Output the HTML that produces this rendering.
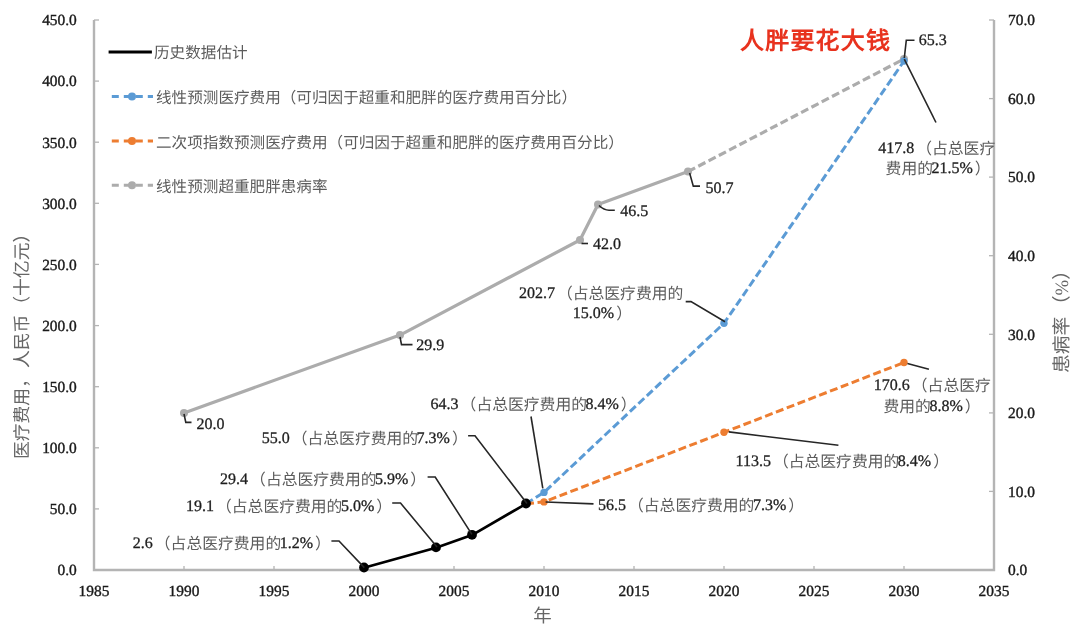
<!DOCTYPE html>
<html lang="zh-CN"><head><meta charset="utf-8">
<style>
html,body{margin:0;padding:0;background:#fff;}
svg{display:block;text-rendering:geometricPrecision;filter:blur(0.4px);}
.n{font-family:"Liberation Serif",serif;font-size:15.4px;fill:#333;}
.ax .d{fill:#1a1a1a;stroke:#1a1a1a;stroke-width:0.4px;}
.t{font-size:17.3px;} .t tspan{fill:#666;} .t{fill:#666;} .t .c{fill:#666;} .rt{font-size:18.8px;} .lt{font-size:17.8px;}
.lb .d{font-size:16px;fill:#1e1e1e;stroke:#1e1e1e;stroke-width:0.3px;} .lb .c{font-size:15.8px;}
.d{fill:#2a2a2a;} .c{fill:#5c5c5c;font-size:15.6px;} .t .c{font-size:17.3px;}
.title .c{fill:#e8321e;font-size:24px;}
.title{font-family:"Liberation Sans",sans-serif;font-size:24px;font-weight:bold;fill:#e8321e;letter-spacing:1.2px;}
</style></head><body>
<svg width="1080" height="632" viewBox="0 0 1080 632">
<path d="M94 20V570H994V20" fill="none" stroke="#b4b4b4" stroke-width="2.4"/>
<line x1="94" y1="570.0" x2="99" y2="570.0" stroke="#b4b4b4" stroke-width="1.3"/>
<text x="76.8" y="575.3" text-anchor="end" class="n ax"><tspan class="d">0.0</tspan></text>
<line x1="94" y1="508.9" x2="99" y2="508.9" stroke="#b4b4b4" stroke-width="1.3"/>
<text x="76.8" y="514.2" text-anchor="end" class="n ax"><tspan class="d">50.0</tspan></text>
<line x1="94" y1="447.8" x2="99" y2="447.8" stroke="#b4b4b4" stroke-width="1.3"/>
<text x="76.8" y="453.1" text-anchor="end" class="n ax"><tspan class="d">100.0</tspan></text>
<line x1="94" y1="386.7" x2="99" y2="386.7" stroke="#b4b4b4" stroke-width="1.3"/>
<text x="76.8" y="392.0" text-anchor="end" class="n ax"><tspan class="d">150.0</tspan></text>
<line x1="94" y1="325.6" x2="99" y2="325.6" stroke="#b4b4b4" stroke-width="1.3"/>
<text x="76.8" y="330.9" text-anchor="end" class="n ax"><tspan class="d">200.0</tspan></text>
<line x1="94" y1="264.4" x2="99" y2="264.4" stroke="#b4b4b4" stroke-width="1.3"/>
<text x="76.8" y="269.7" text-anchor="end" class="n ax"><tspan class="d">250.0</tspan></text>
<line x1="94" y1="203.3" x2="99" y2="203.3" stroke="#b4b4b4" stroke-width="1.3"/>
<text x="76.8" y="208.6" text-anchor="end" class="n ax"><tspan class="d">300.0</tspan></text>
<line x1="94" y1="142.2" x2="99" y2="142.2" stroke="#b4b4b4" stroke-width="1.3"/>
<text x="76.8" y="147.5" text-anchor="end" class="n ax"><tspan class="d">350.0</tspan></text>
<line x1="94" y1="81.1" x2="99" y2="81.1" stroke="#b4b4b4" stroke-width="1.3"/>
<text x="76.8" y="86.4" text-anchor="end" class="n ax"><tspan class="d">400.0</tspan></text>
<line x1="94" y1="20.0" x2="99" y2="20.0" stroke="#b4b4b4" stroke-width="1.3"/>
<text x="76.8" y="25.3" text-anchor="end" class="n ax"><tspan class="d">450.0</tspan></text>
<line x1="989" y1="570.0" x2="994" y2="570.0" stroke="#b4b4b4" stroke-width="1.3"/>
<text x="1008" y="575.2" class="n ax"><tspan class="d">0.0</tspan></text>
<line x1="989" y1="491.4" x2="994" y2="491.4" stroke="#b4b4b4" stroke-width="1.3"/>
<text x="1008" y="496.6" class="n ax"><tspan class="d">10.0</tspan></text>
<line x1="989" y1="412.9" x2="994" y2="412.9" stroke="#b4b4b4" stroke-width="1.3"/>
<text x="1008" y="418.1" class="n ax"><tspan class="d">20.0</tspan></text>
<line x1="989" y1="334.3" x2="994" y2="334.3" stroke="#b4b4b4" stroke-width="1.3"/>
<text x="1008" y="339.5" class="n ax"><tspan class="d">30.0</tspan></text>
<line x1="989" y1="255.7" x2="994" y2="255.7" stroke="#b4b4b4" stroke-width="1.3"/>
<text x="1008" y="260.9" class="n ax"><tspan class="d">40.0</tspan></text>
<line x1="989" y1="177.1" x2="994" y2="177.1" stroke="#b4b4b4" stroke-width="1.3"/>
<text x="1008" y="182.3" class="n ax"><tspan class="d">50.0</tspan></text>
<line x1="989" y1="98.6" x2="994" y2="98.6" stroke="#b4b4b4" stroke-width="1.3"/>
<text x="1008" y="103.8" class="n ax"><tspan class="d">60.0</tspan></text>
<line x1="989" y1="20.0" x2="994" y2="20.0" stroke="#b4b4b4" stroke-width="1.3"/>
<text x="1008" y="25.2" class="n ax"><tspan class="d">70.0</tspan></text>
<line x1="94.0" y1="570" x2="94.0" y2="566" stroke="#b4b4b4" stroke-width="1.3"/>
<text x="94.0" y="595.7" text-anchor="middle" class="n ax"><tspan class="d">1985</tspan></text>
<line x1="184.0" y1="570" x2="184.0" y2="566" stroke="#b4b4b4" stroke-width="1.3"/>
<text x="184.0" y="595.7" text-anchor="middle" class="n ax"><tspan class="d">1990</tspan></text>
<line x1="274.0" y1="570" x2="274.0" y2="566" stroke="#b4b4b4" stroke-width="1.3"/>
<text x="274.0" y="595.7" text-anchor="middle" class="n ax"><tspan class="d">1995</tspan></text>
<line x1="364.0" y1="570" x2="364.0" y2="566" stroke="#b4b4b4" stroke-width="1.3"/>
<text x="364.0" y="595.7" text-anchor="middle" class="n ax"><tspan class="d">2000</tspan></text>
<line x1="454.0" y1="570" x2="454.0" y2="566" stroke="#b4b4b4" stroke-width="1.3"/>
<text x="454.0" y="595.7" text-anchor="middle" class="n ax"><tspan class="d">2005</tspan></text>
<line x1="544.0" y1="570" x2="544.0" y2="566" stroke="#b4b4b4" stroke-width="1.3"/>
<text x="544.0" y="595.7" text-anchor="middle" class="n ax"><tspan class="d">2010</tspan></text>
<line x1="634.0" y1="570" x2="634.0" y2="566" stroke="#b4b4b4" stroke-width="1.3"/>
<text x="634.0" y="595.7" text-anchor="middle" class="n ax"><tspan class="d">2015</tspan></text>
<line x1="724.0" y1="570" x2="724.0" y2="566" stroke="#b4b4b4" stroke-width="1.3"/>
<text x="724.0" y="595.7" text-anchor="middle" class="n ax"><tspan class="d">2020</tspan></text>
<line x1="814.0" y1="570" x2="814.0" y2="566" stroke="#b4b4b4" stroke-width="1.3"/>
<text x="814.0" y="595.7" text-anchor="middle" class="n ax"><tspan class="d">2025</tspan></text>
<line x1="904.0" y1="570" x2="904.0" y2="566" stroke="#b4b4b4" stroke-width="1.3"/>
<text x="904.0" y="595.7" text-anchor="middle" class="n ax"><tspan class="d">2030</tspan></text>
<line x1="994.0" y1="570" x2="994.0" y2="566" stroke="#b4b4b4" stroke-width="1.3"/>
<text x="994.0" y="595.7" text-anchor="middle" class="n ax"><tspan class="d">2035</tspan></text>
<polyline points="184.0,412.9 400.0,335.1 580.0,240.0 598.0,204.6 688.0,171.6" fill="none" stroke="#acacac" stroke-width="3.2" stroke-linejoin="round"/>
<polyline points="688.0,171.6 904.0,59.0" fill="none" stroke="#acacac" stroke-width="3.2" stroke-dasharray="8,3.6"/>
<polyline points="526.0,503.8 544.0,492.4 724.0,323.3 904.0,61.0" fill="none" stroke="#5b9bd5" stroke-width="3" stroke-dasharray="8,3.6"/>
<polyline points="526.0,503.8 544.0,501.9 724.0,432.3 904.0,362.5" fill="none" stroke="#ed7d31" stroke-width="3" stroke-dasharray="8,3.6"/>
<circle cx="184.0" cy="412.9" r="4" fill="#acacac"/>
<circle cx="400.0" cy="335.1" r="4" fill="#acacac"/>
<circle cx="580.0" cy="240.0" r="4" fill="#acacac"/>
<circle cx="598.0" cy="204.6" r="4" fill="#acacac"/>
<circle cx="688.0" cy="171.6" r="4" fill="#acacac"/>
<circle cx="904.0" cy="59.0" r="4" fill="#acacac"/>
<circle cx="544.0" cy="492.4" r="3.7" fill="#5b9bd5"/>
<circle cx="724.0" cy="323.3" r="3.7" fill="#5b9bd5"/>
<circle cx="904.0" cy="61.0" r="3.7" fill="#5b9bd5"/>
<circle cx="544.0" cy="501.9" r="3.7" fill="#ed7d31"/>
<circle cx="724.0" cy="432.3" r="3.7" fill="#ed7d31"/>
<circle cx="904.0" cy="362.5" r="3.7" fill="#ed7d31"/>
<polyline points="364.0,567.8 436.0,547.7 472.0,535.1 526.0,503.8" fill="none" stroke="#000" stroke-width="2.7" stroke-linejoin="round"/>
<circle cx="364.0" cy="567.5" r="4.9" fill="#000"/>
<circle cx="436.0" cy="547.4" r="4.9" fill="#000"/>
<circle cx="472.0" cy="534.8" r="4.9" fill="#000"/>
<circle cx="526.0" cy="503.5" r="4.9" fill="#000"/>
<path d="M184 414 L185.8 422.4 H191.5" fill="none" stroke="#262626" stroke-width="1.6"/>
<path d="M400 337 L401.5 344.6 H412.5" fill="none" stroke="#262626" stroke-width="1.6"/>
<path d="M581.5 243.5 H588" fill="none" stroke="#262626" stroke-width="1.6"/>
<path d="M599 205.5 Q604 210.2 609 210.2 H614.8" fill="none" stroke="#262626" stroke-width="1.6"/>
<path d="M689.6 173 L693.3 186.1 H700" fill="none" stroke="#262626" stroke-width="1.6"/>
<path d="M904.3 58 L906.3 40.2 H914.5" fill="none" stroke="#262626" stroke-width="1.6"/>
<path d="M904.3 59.2 L936 122.5" fill="none" stroke="#262626" stroke-width="1.6"/>
<path d="M685.7 301.6 H691 L725 321.8" fill="none" stroke="#262626" stroke-width="1.6"/>
<path d="M531 416.5 L542.8 488.4" fill="none" stroke="#262626" stroke-width="1.6"/>
<path d="M468.1 435.7 H475 L527 503.5" fill="none" stroke="#262626" stroke-width="1.6"/>
<path d="M427.6 477 H435.2 L471.9 534.4" fill="none" stroke="#262626" stroke-width="1.6"/>
<path d="M392.2 503 H400.5 L437 547" fill="none" stroke="#262626" stroke-width="1.6"/>
<path d="M331.4 541 H339 L364.3 567.6" fill="none" stroke="#262626" stroke-width="1.6"/>
<path d="M545.6 502 L593.5 503.9" fill="none" stroke="#262626" stroke-width="1.6"/>
<path d="M728.8 431.9 L838.4 445.3" fill="none" stroke="#262626" stroke-width="1.6"/>
<path d="M907.4 363.4 L928.9 369.3" fill="none" stroke="#262626" stroke-width="1.6"/>
<text x="196.4" y="429.0" class="n lb"><tspan class="d">20.0</tspan></text>
<text x="416.3" y="350.4" class="n lb"><tspan class="d">29.9</tspan></text>
<text x="593" y="248.7" class="n lb"><tspan class="d">42.0</tspan></text>
<text x="620.2" y="215.8" class="n lb"><tspan class="d">46.5</tspan></text>
<text x="705.4" y="193.2" class="n lb"><tspan class="d">50.7</tspan></text>
<text x="918.7" y="45.3" class="n lb"><tspan class="d">65.3</tspan></text>
<text x="878.2" y="153.4" class="n lb"><tspan class="d">417.8</tspan><tspan class="c" dx="2" dy="1">（占总医疗</tspan></text>
<text x="885.6" y="173.2" class="n lb"><tspan class="c" dy="1">费用的</tspan><tspan class="d" dx="-1.5" dy="-1">21.5%</tspan><tspan class="c" dx="2" dy="1">）</tspan></text>
<text x="518.9" y="298.0" class="n lb"><tspan class="d">202.7</tspan><tspan class="c" dx="2" dy="1">（占总医疗费用的</tspan></text>
<text x="572.8" y="318.2" class="n lb"><tspan class="d">15.0%</tspan><tspan class="c" dx="2" dy="1">）</tspan></text>
<text x="430.6" y="408.9" class="n lb"><tspan class="d">64.3</tspan><tspan class="c" dx="2" dy="1">（占总医疗费用的</tspan><tspan class="d" dx="-1.5" dy="-1">8.4%</tspan><tspan class="c" dx="2" dy="1">）</tspan></text>
<text x="261.7" y="443.0" class="n lb"><tspan class="d">55.0</tspan><tspan class="c" dx="2" dy="1">（占总医疗费用的</tspan><tspan class="d" dx="-1.5" dy="-1">7.3%</tspan><tspan class="c" dx="2" dy="1">）</tspan></text>
<text x="220.1" y="484.4" class="n lb"><tspan class="d">29.4</tspan><tspan class="c" dx="2" dy="1">（占总医疗费用的</tspan><tspan class="d" dx="-1.5" dy="-1">5.9%</tspan><tspan class="c" dx="2" dy="1">）</tspan></text>
<text x="186" y="511.0" class="n lb"><tspan class="d">19.1</tspan><tspan class="c" dx="2" dy="1">（占总医疗费用的</tspan><tspan class="d" dx="-1.5" dy="-1">5.0%</tspan><tspan class="c" dx="2" dy="1">）</tspan></text>
<text x="132.8" y="548.0" class="n lb"><tspan class="d">2.6</tspan><tspan class="c" dx="2" dy="1">（占总医疗费用的</tspan><tspan class="d" dx="-1.5" dy="-1">1.2%</tspan><tspan class="c" dx="2" dy="1">）</tspan></text>
<text x="598" y="509.6" class="n lb"><tspan class="d">56.5</tspan><tspan class="c" dx="2" dy="1">（占总医疗费用的</tspan><tspan class="d" dx="-1.5" dy="-1">7.3%</tspan><tspan class="c" dx="2" dy="1">）</tspan></text>
<text x="735.5" y="466.1" class="n lb"><tspan class="d">113.5</tspan><tspan class="c" dx="2" dy="1">（占总医疗费用的</tspan><tspan class="d" dx="-1.5" dy="-1">8.4%</tspan><tspan class="c" dx="2" dy="1">）</tspan></text>
<text x="873.8" y="390.3" class="n lb"><tspan class="d">170.6</tspan><tspan class="c" dx="2" dy="1">（占总医疗</tspan></text>
<text x="883.5" y="411.0" class="n lb"><tspan class="c" dy="1">费用的</tspan><tspan class="d" dx="-1.5" dy="-1">8.8%</tspan><tspan class="c" dx="2" dy="1">）</tspan></text>
<line x1="108.6" y1="51.9" x2="151.9" y2="51.9" stroke="#000" stroke-width="3"/>
<text x="154" y="56.5" class="n"><tspan class="c" dy="1">历史数据估计</tspan></text>
<line x1="111.8" y1="96.5" x2="153" y2="96.5" stroke="#5b9bd5" stroke-width="3" stroke-dasharray="7,5"/>
<circle cx="132" cy="96.5" r="4" fill="#5b9bd5"/>
<text x="156" y="102.0" class="n"><tspan class="c" dy="1">线性预测医疗费用（可归因于超重和肥胖的医疗费用百分比）</tspan></text>
<line x1="111.8" y1="141.1" x2="153" y2="141.1" stroke="#ed7d31" stroke-width="3" stroke-dasharray="7,5"/>
<circle cx="132" cy="141.1" r="4" fill="#ed7d31"/>
<text x="156" y="146.6" class="n"><tspan class="c" dy="1">二次项指数预测医疗费用（可归因于超重和肥胖的医疗费用百分比）</tspan></text>
<line x1="111.8" y1="185.3" x2="153" y2="185.3" stroke="#acacac" stroke-width="3" stroke-dasharray="7,5"/>
<circle cx="132" cy="185.3" r="4" fill="#acacac"/>
<text x="156" y="190.8" class="n"><tspan class="c" dy="1">线性预测超重肥胖患病率</tspan></text>
<text x="542.4" y="621.8" text-anchor="middle" class="n t"><tspan style="font-size:18.5px" dy="0">年</tspan></text>
<text transform="translate(27.5 459) rotate(-90)" class="n t lt">医疗费用，<tspan dx="2">人民币</tspan><tspan dx="1">（十亿元）</tspan></text>
<text transform="translate(1067.5 317) rotate(-90)" text-anchor="middle" class="n t rt">患病率<tspan dx="2.5">（%）</tspan></text>
<text x="740" y="48" class="title"><tspan class="c" dy="1">人胖要花大钱</tspan></text>
</svg>
</body></html>
